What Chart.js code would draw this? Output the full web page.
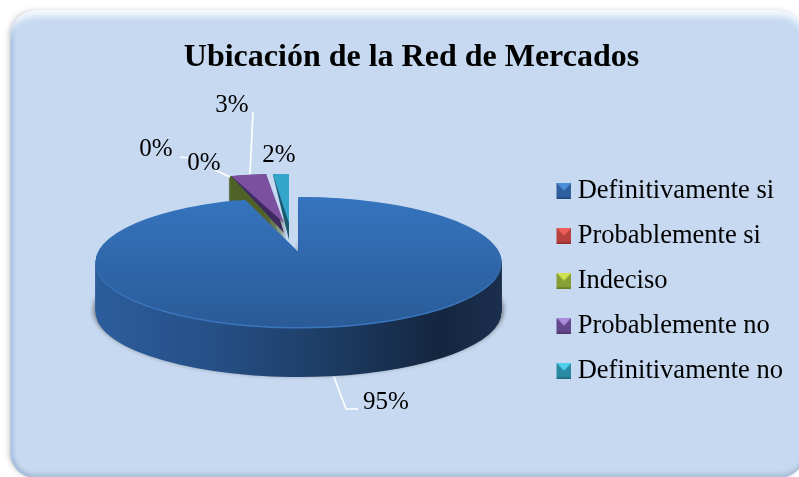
<!DOCTYPE html>
<html>
<head>
<meta charset="utf-8">
<script src="https://cdn.jsdelivr.net/npm/chart.js@4/dist/chart.umd.min.js"></script>
<style>
html, body { margin: 0; padding: 0; width: 799px; height: 477px; overflow: hidden; background: #fff; }
#panel {
    position: absolute; left: 10px; top: 10px; width: 795px; height: 468px;
    box-sizing: border-box; background: #c6d9f1; border-radius: 26px;
    box-shadow: inset 0 9px 6px -3px #f6fafe, inset 4px 0 4px -1px #a3bbdb, inset 0 -6px 4px -2px #aebfd8, -2px 0 4px rgba(90,90,90,0.25);
}
#wrap { position: absolute; left: 0; top: 0; width: 799px; height: 477px; }
</style>
</head>
<body>
<div id="panel"></div>
<div id="wrap"><canvas id="pieChart" width="799" height="477"></canvas></div>
<script>
const categories = ['Definitivamente si', 'Probablemente si', 'Indeciso', 'Probablemente no', 'Definitivamente no'];
const seriesValues = [95, 0.1, 0.4, 3, 1.5];

const topColors  = ['#3571ba', '#c0504d', '#4f6228', '#7a509f', '#33a5ca'];
const wallColors = ['#1f3f68', '#7a2f2d', '#4f6228', '#3f2a60', '#1b5a6e'];
const iconColors = [['#2f5f9f', '#4a90d8'], ['#b8403d', '#ee5f5a'], ['#86a035', '#cde24c'], ['#63468c', '#ab8cdc'], ['#2a8aa4', '#50d2ee']];

const SERIF = '"Liberation Serif", "Times New Roman", serif';

// the main slice, and how far it is tilted
const PIE = { cx: 298.5, cy: 262, rx: 203, ry: 65, depth: 50 };
// back slices: apex of top face, apex of the dark cut face
const BACK = {
    1: { cx: 288, cy: 223, ry: 49, sx: 0.95, dark: 0 },
    2: { cx: 287, cy: 223, ry: 49, sx: 0.95, stack: 50 },
    3: { cx: 284, cy: 223, ry: 49, sx: 0.93, dark: 10 },
    4: { cx: 289, cy: 223, ry: 49, sx: 0.85, dark: 17 },
};

// label anchor and leader line for each slice
const LABEL_POS = [
    { x: 386, y: 402, line: [[334, 377], [346, 409], [358, 409]] },
    { x: 156, y: 149, line: [[180, 157], [190, 158]] },
    { x: 204, y: 163, line: [[215, 170], [230, 177]] },
    { x: 232, y: 105, line: [[253, 112], [250, 174]] },
    { x: 279, y: 155, line: null },
];

function arcCopy(el, color) {
    const a = new Chart.ArcElement();
    Object.assign(a, {
        x: el.x, y: el.y, startAngle: el.startAngle, endAngle: el.endAngle,
        circumference: el.circumference, innerRadius: 0, outerRadius: PIE.rx,
    });
    a.options = {
        backgroundColor: color, borderColor: 'transparent', borderWidth: 0, borderAlign: 'center',
        borderRadius: 0, spacing: 0, offset: 0, circular: true, borderDash: [], borderDashOffset: 0,
    };
    return a;
}

function drawFlat(ctx, el, color, cx, cy, ry, sx) {
    ctx.save();
    ctx.translate(cx, cy);
    ctx.scale(sx || 1, ry / PIE.rx);
    ctx.translate(-el.x, -el.y);
    const fill = typeof color === 'function' ? color(ctx) : color;
    arcCopy(el, fill).draw(ctx);
    ctx.restore();
}

// vertical shade of the top face, in the slice's own squashed space
function topShade(ctx, el, cy, ry) {
    const k = ry / PIE.rx;
    const g = ctx.createLinearGradient(0, el.y + (197 - cy) / k, 0, el.y + (327 - cy) / k);
    g.addColorStop(0, '#3674bf');
    g.addColorStop(1, '#2a5b98');
    return g;
}

function wallShade(ctx, el) {
    const g = ctx.createLinearGradient(el.x - PIE.rx, 0, el.x + PIE.rx, 0);
    g.addColorStop(0, '#2c5d9c');
    g.addColorStop(0.3, '#254f85');
    g.addColorStop(0.55, '#1e3e67');
    g.addColorStop(0.85, '#14263f');
    g.addColorStop(1, '#1b2f4e');
    return g;
}

const pie3d = {
    id: 'pie3d',
    beforeDatasetsDraw(chart) {
        const ctx = chart.ctx;
        const arcs = chart.getDatasetMeta(0).data;

        // back slices, far one first
        [1, 2, 4, 3].forEach(i => {
            const b = BACK[i];
            if (b.stack) {
                for (let d = b.stack; d > 0; d--) drawFlat(ctx, arcs[i], wallColors[i], b.cx, b.cy + d, b.ry, b.sx);
            }
            if (b.dark) drawFlat(ctx, arcs[i], wallColors[i], b.cx, b.cy + b.dark, b.ry + b.dark, b.sx);
            drawFlat(ctx, arcs[i], topColors[i], b.cx, b.cy, b.ry, b.sx);
        });

        // soft floor shadow
        const main = arcs[0];
        ctx.save();
        ctx.filter = 'blur(2px)';
        drawFlat(ctx, main, '#7f838c', PIE.cx, PIE.cy + PIE.depth - 2, PIE.ry + 1, 1.012);
        ctx.restore();

        for (let d = PIE.depth; d > 0; d--) {
            drawFlat(ctx, main, c => wallShade(c, main), PIE.cx, PIE.cy + d, PIE.ry);
        }
        drawFlat(ctx, main, '#3a76be', PIE.cx, PIE.cy + 1.5, PIE.ry);
        drawFlat(ctx, main, c => topShade(c, main, PIE.cy, PIE.ry), PIE.cx, PIE.cy, PIE.ry);
        // the far side of the tilted disc is foreshortened, so the tip sits higher
        drawFlat(ctx, main, c => topShade(c, main, PIE.cy - 10, 55), PIE.cx, PIE.cy - 10, 55, 0.85);
        return false;
    },
    afterDraw(chart) {
        const ctx = chart.ctx;
        const total = seriesValues.reduce((a, b) => a + b, 0);
        ctx.save();
        ctx.strokeStyle = '#fff';
        ctx.lineWidth = 1.6;
        LABEL_POS.forEach(p => {
            if (!p.line) return;
            ctx.beginPath();
            p.line.forEach((pt, i) => i ? ctx.lineTo(pt[0], pt[1]) : ctx.moveTo(pt[0], pt[1]));
            ctx.stroke();
        });
        ctx.fillStyle = '#000';
        ctx.font = '25px ' + SERIF;
        ctx.textAlign = 'center';
        ctx.textBaseline = 'middle';
        seriesValues.forEach((v, i) => {
            ctx.fillText(Math.round(v / total * 100) + '%', LABEL_POS[i].x, LABEL_POS[i].y);
        });
        ctx.restore();
    }
};

// bevelled legend square, with blank space on the left so it sits at the box start
function legendIcon(colors) {
    const c = document.createElement('canvas');
    c.width = 22; c.height = 16;
    const x = c.getContext('2d');
    x.fillStyle = colors[0];
    x.fillRect(7, 0, 15, 16);
    x.fillStyle = colors[1];
    x.beginPath();
    x.moveTo(7, 0); x.lineTo(22, 0); x.lineTo(14.5, 8);
    x.closePath();
    x.fill();
    x.fillStyle = 'rgba(0,0,0,0.22)';
    x.fillRect(7, 14.5, 15, 1.5);
    return c;
}
const icons = iconColors.map(legendIcon);

new Chart(document.getElementById('pieChart').getContext('2d'), {
    type: 'pie',
    data: {
        labels: categories,
        datasets: [{ data: seriesValues, backgroundColor: topColors, borderWidth: 0, pointStyle: icons }]
    },
    options: {
        responsive: false, animation: false, radius: PIE.rx,
        layout: { padding: { left: 30, right: 6, top: 0, bottom: 0 } },
        plugins: {
            tooltip: { enabled: false },
            title: {
                display: true, text: 'Ubicación de la Red de Mercados', color: '#000',
                font: { family: SERIF, size: 32, weight: 'bold' },
                padding: { top: 39, bottom: 7 }
            },
            legend: {
                position: 'right', fullSize: false,
                labels: {
                    color: '#000', font: { family: SERIF, size: 26.5 }, padding: 18.5,
                    usePointStyle: true, boxWidth: 8, boxHeight: 26.5,
                    generateLabels(chart) {
                        return categories.map((c, i) => ({ text: c, pointStyle: icons[i], index: i, fillStyle: topColors[i], strokeStyle: 'transparent', lineWidth: 0 }));
                    }
                }
            }
        }
    },
    plugins: [pie3d]
});
</script>
</body>
</html>
